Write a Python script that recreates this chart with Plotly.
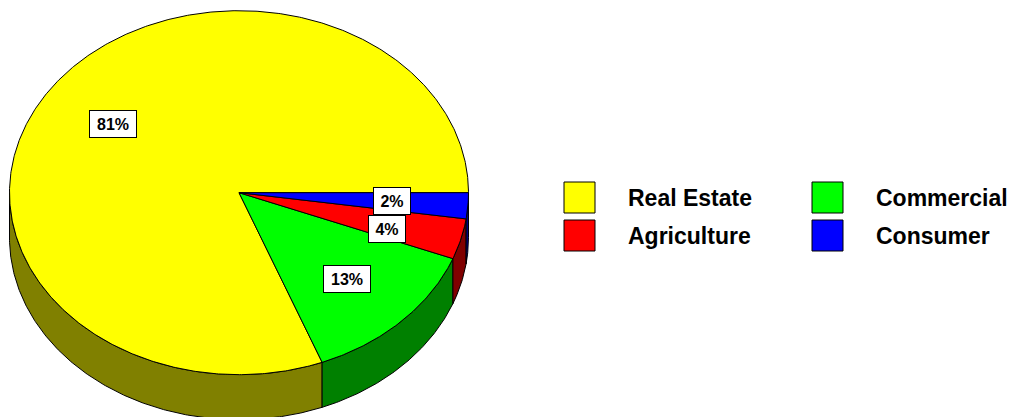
import numpy as np
import plotly.graph_objects as go

# ---- data ----
categories = ["Real Estate", "Commercial", "Agriculture", "Consumer"]
values = [80.9, 13.2, 3.6, 2.3]
pct_labels = ["81%", "13%", "4%", "2%"]

# ---- style ----
top_colors = ["#FFFF00", "#00FF00", "#FF0000", "#0000FF"]
side_colors = ["#808000", "#008000", "#800000", "#000080"]
FONT = "Liberation Sans, Arial, sans-serif"

W, H = 1011, 417
CX, CY, RX, RY, DEPTH = 239.0, 192.7, 229.5, 182.0, 45.0
LABEL_R = 0.667
BOX_H = 22

fig = go.Figure()

def pt(t, dz=0.0):
    return CX + RX * np.cos(t), CY - RY * np.sin(t) + dz

total = float(sum(values))
cum = np.concatenate([[0.0], np.cumsum(values)]) / total * 2 * np.pi
bounds = list(zip(cum[:-1], cum[1:]))

# side faces (front half only: angles between pi and 2pi)
for (t0, t1), sc in zip(bounds, side_colors):
    a, b = max(t0, np.pi), min(t1, 2 * np.pi)
    if b <= a:
        continue
    ts = np.linspace(a, b, max(3, int((b - a) * 120)))
    xt, yt = pt(ts)
    xb, yb = pt(ts[::-1], DEPTH)
    xs = np.concatenate([xt, xb, xt[:1]])
    ys = np.concatenate([yt, yb, yt[:1]])
    fig.add_trace(go.Scatter(x=xs, y=ys, mode="lines", fill="toself",
                             fillcolor=sc, line=dict(color="black", width=1),
                             hoverinfo="skip"))

# top faces
for (t0, t1), tc in zip(bounds, top_colors):
    ts = np.linspace(t0, t1, max(3, int((t1 - t0) * 120)))
    xa, ya = pt(ts)
    xs = np.concatenate([[CX], xa, [CX]])
    ys = np.concatenate([[CY], ya, [CY]])
    fig.add_trace(go.Scatter(x=xs, y=ys, mode="lines", fill="toself",
                             fillcolor=tc, line=dict(color="black", width=1),
                             hoverinfo="skip"))

annotations = []
# percentage labels, with simple overlap avoidance (push downward)
placed = []
for idx in reversed(range(len(values))):
    t0, t1 = bounds[idx]
    lab = pct_labels[idx]
    tm = (t0 + t1) / 2
    lx = CX + LABEL_R * RX * np.cos(tm)
    ly = CY - LABEL_R * RY * np.sin(tm)
    bw = 10 * len(lab) + 12
    bh = BOX_H + 8
    for (px, py, pw, ph) in placed:
        if abs(px - lx) < (pw + bw) / 2 and abs(py - ly) < (ph + bh) / 2:
            ly = py + (ph + bh) / 2 - 2
    placed.append((lx, ly, bw, bh))
    annotations.append(dict(x=lx, y=ly, xref="x", yref="y", text="<b>%s</b>" % lab,
                            showarrow=False, xanchor="center", yanchor="middle",
                            bgcolor="white", bordercolor="black", borderwidth=1,
                            borderpad=2, width=bw, height=BOX_H,
                            font=dict(family=FONT, size=16, color="black")))

# legend (2 columns, row-major)
shapes = []
col_x = [564, 812]
row_y = [182, 220]
SW = 31
for i, (cat, tc) in enumerate(zip(categories, top_colors)):
    x0 = col_x[i % 2]
    y0 = row_y[i // 2]
    shapes.append(dict(type="rect", xref="x", yref="y", x0=x0, x1=x0 + SW,
                       y0=y0, y1=y0 + SW, fillcolor=tc,
                       line=dict(color="black", width=1)))
    annotations.append(dict(x=x0 + 62, y=y0 + SW / 2, xref="x", yref="y",
                            text="<b>%s</b>" % cat, showarrow=False,
                            xanchor="left", yanchor="middle",
                            font=dict(family=FONT, size=23, color="black")))

fig.update_layout(
    width=W, height=H, margin=dict(l=0, r=0, t=0, b=0),
    paper_bgcolor="white", plot_bgcolor="white", showlegend=False,
    xaxis=dict(range=[0, W], visible=False, fixedrange=True),
    yaxis=dict(range=[H, 0], visible=False, fixedrange=True),
    annotations=annotations, shapes=shapes,
)
fig.write_html("out.html", config={"displayModeBar": False},
               post_script="document.body.style.margin='0';document.body.style.overflow='hidden';")
